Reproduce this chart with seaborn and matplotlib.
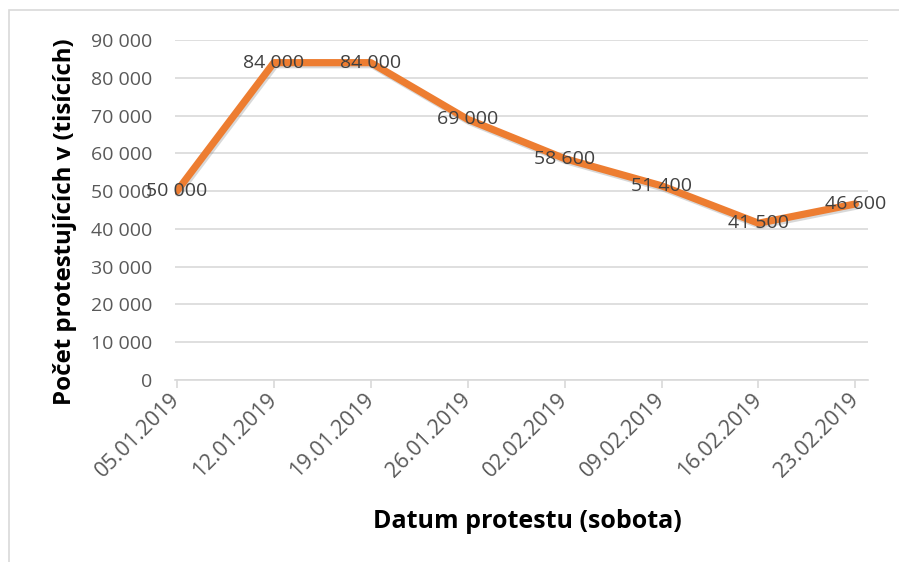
import matplotlib
matplotlib.use("Agg")
import matplotlib.pyplot as plt
import matplotlib.patheffects as pe
from matplotlib.patches import Rectangle
from matplotlib.transforms import ScaledTranslation
import seaborn as sns
import pandas as pd

dates = ["05.01.2019", "12.01.2019", "19.01.2019", "26.01.2019",
         "02.02.2019", "09.02.2019", "16.02.2019", "23.02.2019"]
values = [50000, 84000, 84000, 69000, 58600, 51400, 41500, 46600]
yticks = [0, 10000, 20000, 30000, 40000, 50000, 60000, 70000, 80000, 90000]

def fmt(v):
    return f"{v:,}".replace(",", " ")

sns.set_theme(style="white")
plt.rcParams['font.family'] = ['Open Sans', 'DejaVu Sans']

fig = plt.figure(figsize=(8.99, 5.62), dpi=100)
ax = fig.add_axes([175/899, 1-380/562, (868-175)/899, 340/562])

df = pd.DataFrame({"date": dates, "value": values})
df["pos"] = range(len(dates))
sns.lineplot(data=df, x="pos", y="value", ax=ax, color="#ED7D31", linewidth=5.2,
             sort=False, solid_joinstyle="round", solid_capstyle="round",
             path_effects=[pe.SimpleLineShadow(offset=(1.0, -1.5), shadow_color="#808080", alpha=0.3),
                           pe.Normal()])

for i, v in enumerate(values):
    ax.text(i, v, fmt(v), ha="center", va="center", fontsize=14, color="#404040", zorder=5)

ax.set_xlim(-0.02, len(dates) - 1 + 0.13)
ax.set_ylim(0, 90000)
ax.set_yticks(yticks)
ax.set_yticklabels([fmt(t) for t in yticks], fontsize=14, color="#595959")
ax.set_xticks(range(len(dates)))
ax.set_xticklabels(dates, rotation=45, ha="right", va="center", rotation_mode="anchor",
                   fontsize=15.5, color="#595959")
off = ScaledTranslation(0.1, -0.01, fig.dpi_scale_trans)
for lab in ax.get_xticklabels():
    lab.set_transform(lab.get_transform() + off)
ax.grid(axis="y", color="#d9d9d9", linewidth=1.2)
ax.set_axisbelow(True)
for s in ["top", "right", "left"]:
    ax.spines[s].set_visible(False)
ax.spines["bottom"].set_color("#d9d9d9")
ax.spines["bottom"].set_linewidth(1.2)
ax.tick_params(axis="x", which="both", bottom=True, length=6, color="#d9d9d9", width=1.2, pad=6)
ax.tick_params(axis="y", length=0, pad=16.5)

ax.set_xlabel("Datum protestu (sobota)", fontsize=18, fontweight="bold", color="black")
ax.set_ylabel("Počet protestujících v (tisících)", fontsize=17.3, fontweight="bold", color="black")
ax.xaxis.set_label_coords(0.508, -0.415)
ax.xaxis.label.set_va("center")
ax.yaxis.set_label_coords(-0.159, 0.465)
ax.yaxis.label.set_va("center")

fig.patches.append(Rectangle((9/899, -0.05), 1.0, 0.05 + 552/562, transform=fig.transFigure,
                             fill=False, edgecolor="#d9d9d9", linewidth=1.2))

fig.savefig("out.png", dpi=100)
